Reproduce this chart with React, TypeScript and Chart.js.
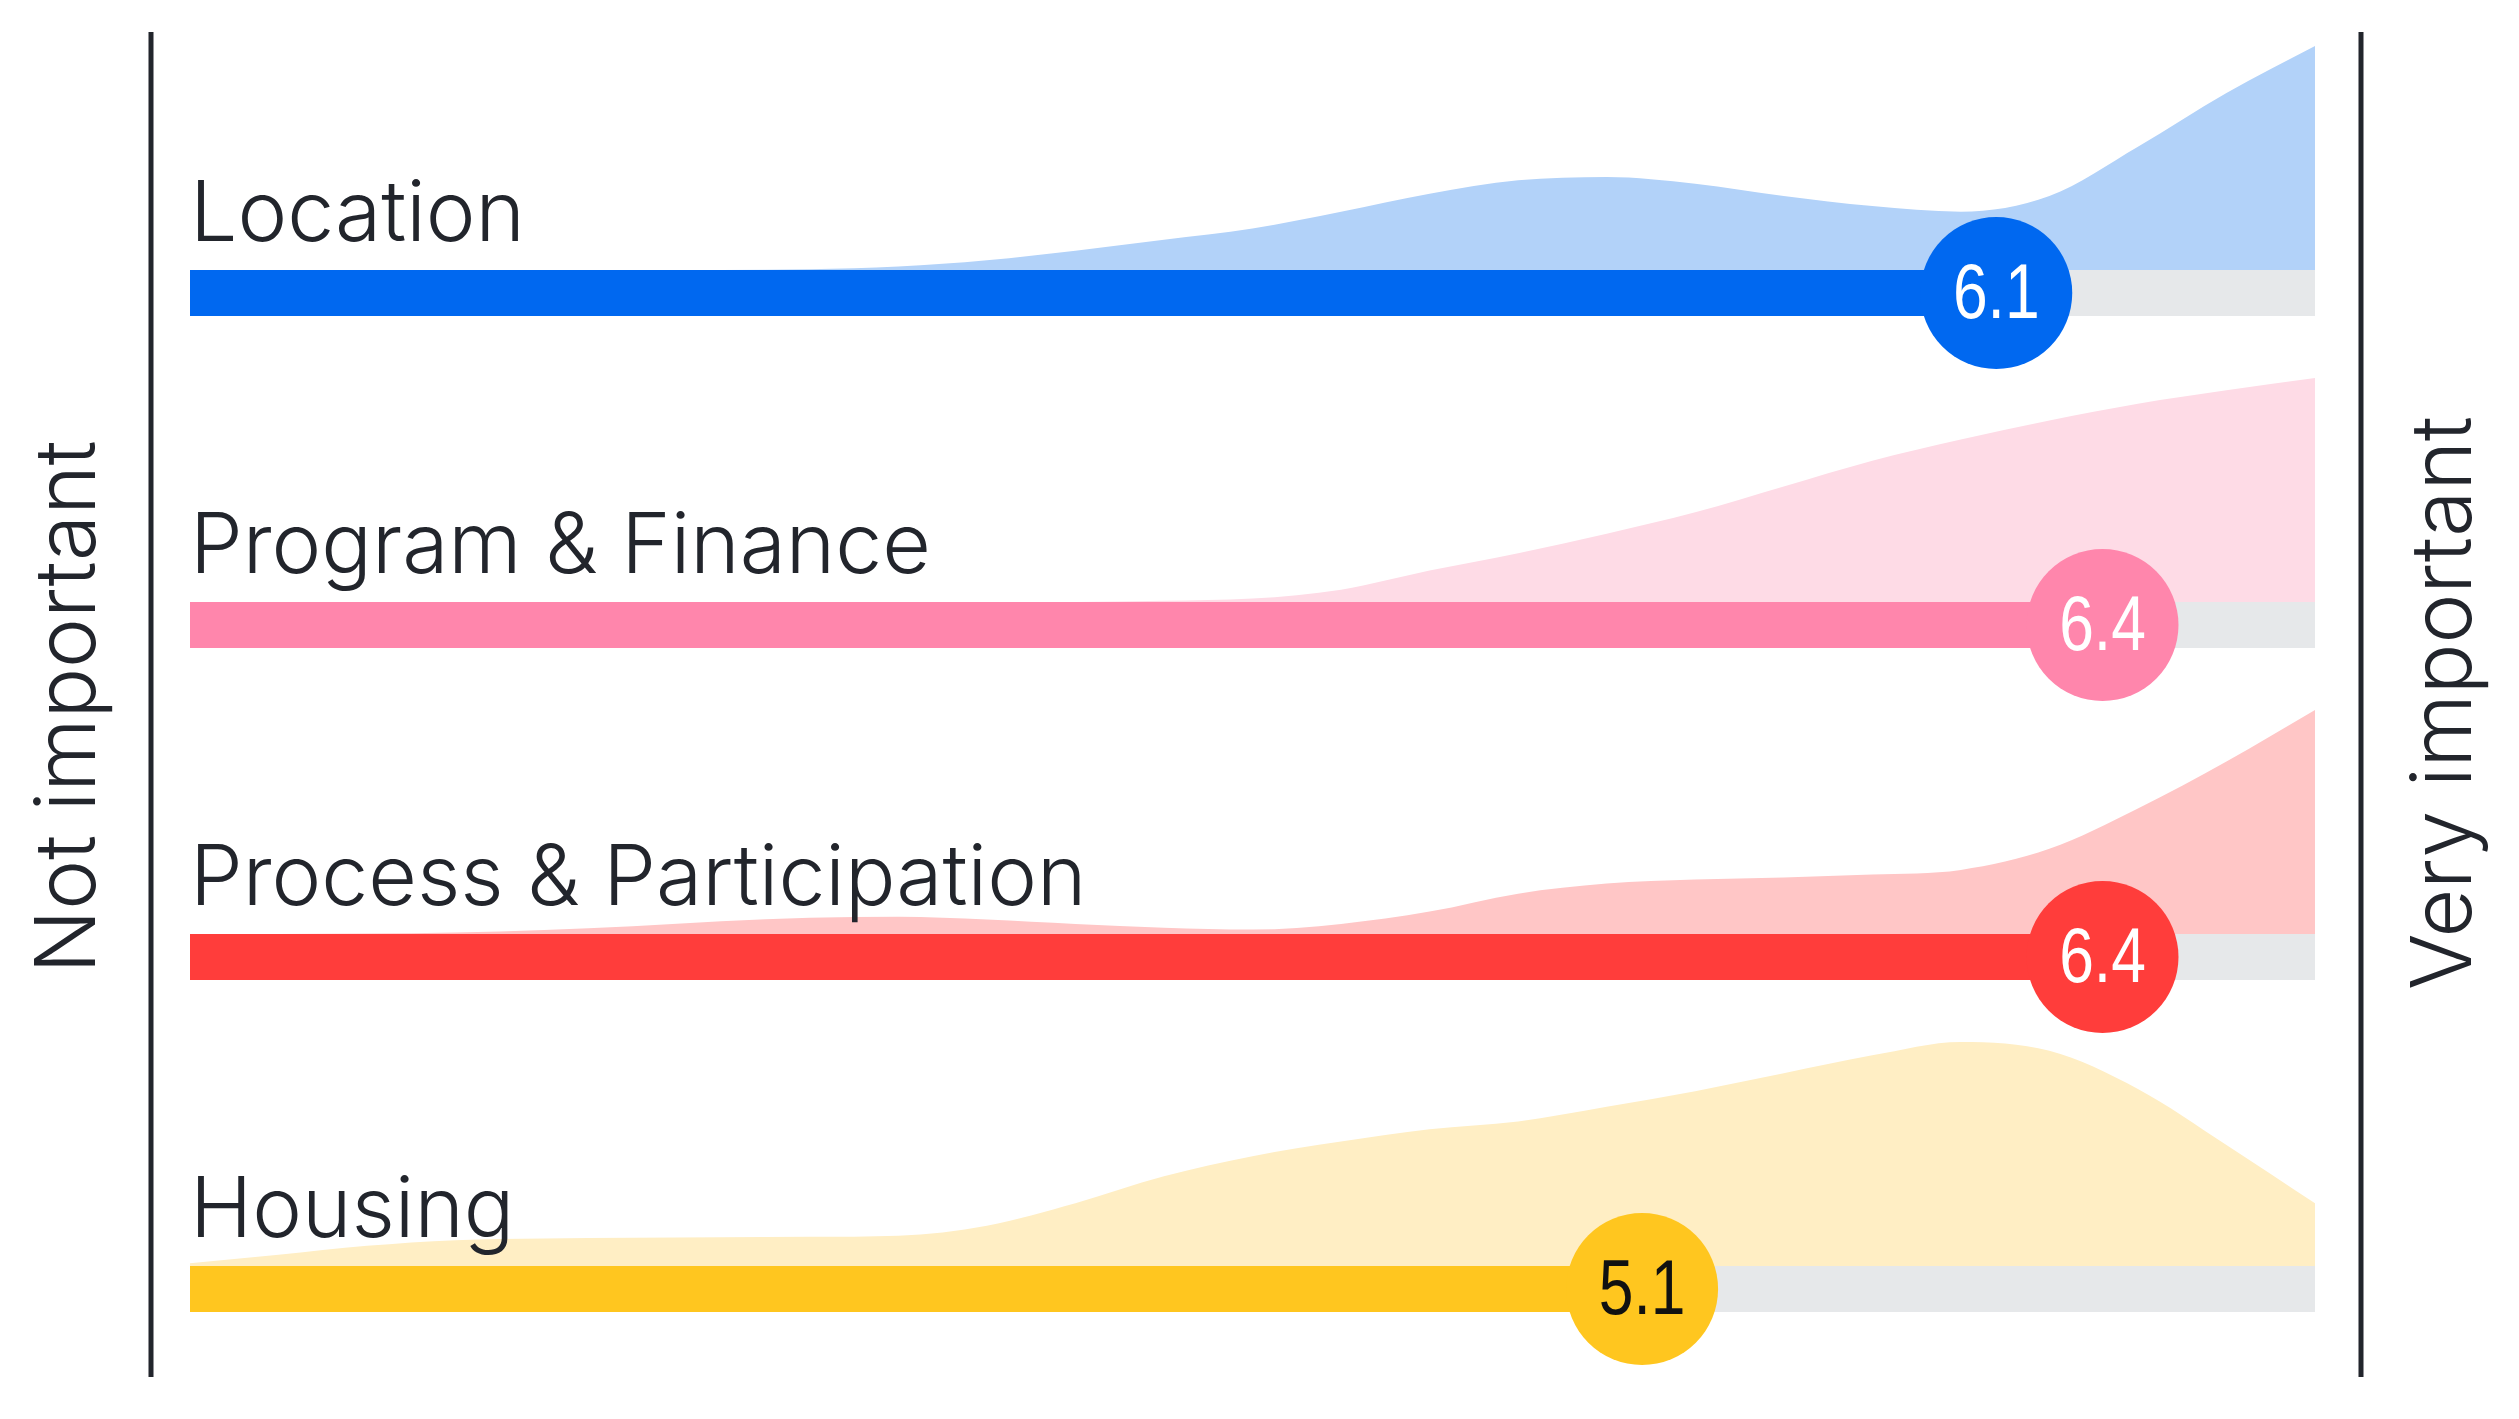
import React, { useEffect, useRef } from "react";
import { Chart, registerables } from "chart.js";

Chart.register(...registerables);

const categories = ["Location", "Program & Finance", "Process & Participation", "Housing"];
const means = [6.1, 6.4, 6.4, 5.1];
const scaleMin = 1;
const scaleMax = 7;
const sideLabels = ["Not important", "Very important"];

const xs = [1, 1.25, 1.5, 1.75, 2, 2.25, 2.5, 2.75, 3, 3.25, 3.5, 3.75, 4, 4.25, 4.5, 4.75, 5, 5.25, 5.5, 5.75, 6, 6.25, 6.5, 6.75, 7];

const densityLocation = [0, 0, 0, 0, 0, 0, 0, 0.003, 0.015, 0.043, 0.086, 0.135, 0.185, 0.26, 0.34, 0.4, 0.415, 0.385, 0.33, 0.285, 0.26, 0.33, 0.55, 0.79, 1.0];
const densityProgram = [0, 0, 0, 0, 0, 0, 0, 0, 0, 0, 0, 0.005, 0.015, 0.055, 0.14, 0.218, 0.305, 0.4, 0.515, 0.63, 0.725, 0.81, 0.885, 0.945, 1.0];
const densityProcess = [0, 0, 0.002, 0.007, 0.018, 0.035, 0.057, 0.072, 0.077, 0.065, 0.045, 0.028, 0.02, 0.045, 0.1, 0.18, 0.225, 0.243, 0.252, 0.265, 0.286, 0.38, 0.56, 0.77, 1.0];
const densityHousing = [0.012, 0.05, 0.09, 0.115, 0.123, 0.126, 0.128, 0.13, 0.135, 0.18, 0.28, 0.4, 0.49, 0.555, 0.61, 0.645, 0.71, 0.78, 0.86, 0.94, 1.0, 0.96, 0.79, 0.54, 0.28];
const densities = [densityLocation, densityProgram, densityProcess, densityHousing];

const barColors = ["#0068F0", "#FF86AC", "#FF3D3B", "#FFC61F"];
const fillColors = ["#B2D2F9", "#FEDBE6", "#FFC6C6", "#FFEEC4"];
const valueTextColors = ["#FFFFFF", "#FFFFFF", "#FFFFFF", "#111111"];
const trackColor = "#E6E8EA";
const inkColor = "#22252C";

const W = 2519;
const H = 1419;
const BAR_PX = 46;
const DOT_R = 76;
const BAR_HALF = 0.0693; // half bar thickness in row units
const DENS_H = 0.675; // max density height in row units

export default function App() {
  const ref = useRef<HTMLCanvasElement | null>(null);

  useEffect(() => {
    const canvas = ref.current;
    if (!canvas) return;
    const n = categories.length;
    const rowCenter = (i: number) => n - 1 - i;

    const datasets: any[] = [];
    categories.forEach((cat, i) => {
      const c = rowCenter(i);
      const base = c + BAR_HALF;
      datasets.push({
        label: cat + " density",
        data: xs.map((x, k) => ({ x, y: base + densities[i][k] * DENS_H })),
        borderWidth: 0,
        borderColor: "rgba(0,0,0,0)",
        backgroundColor: fillColors[i],
        fill: { value: base },
        pointRadius: 0,
        cubicInterpolationMode: "monotone",
        order: 4,
        clip: false,
      });
      datasets.push({
        label: cat + " track",
        data: [{ x: scaleMin, y: c }, { x: scaleMax, y: c }],
        borderColor: trackColor,
        borderWidth: BAR_PX,
        borderCapStyle: "butt",
        pointRadius: 0,
        fill: false,
        order: 3,
        clip: false,
      });
      datasets.push({
        label: cat + " bar",
        data: [{ x: scaleMin, y: c }, { x: means[i], y: c }],
        borderColor: barColors[i],
        borderWidth: BAR_PX,
        borderCapStyle: "butt",
        pointRadius: 0,
        fill: false,
        order: 2,
        clip: false,
      });
      datasets.push({
        label: cat + " mean",
        data: [{ x: means[i], y: c }],
        showLine: false,
        pointRadius: DOT_R,
        pointHoverRadius: DOT_R,
        pointBackgroundColor: barColors[i],
        pointBorderWidth: 0,
        borderWidth: 0,
        fill: false,
        order: 1,
        clip: false,
      });
    });

    const labelPlugin = {
      id: "labels",
      afterDatasetsDraw(chart: any) {
        const ctx = chart.ctx;
        const xS = chart.scales.x;
        const yS = chart.scales.y;
        const area = chart.chartArea;
        ctx.save();
        // row labels
        ctx.fillStyle = inkColor;
        ctx.font = '300 84px Inter, "Noto Sans", sans-serif';
        ctx.textAlign = "left";
        ctx.textBaseline = "alphabetic";
        categories.forEach((cat, i) => {
          const cy = yS.getPixelForValue(rowCenter(i));
          ctx.fillText(cat, xS.getPixelForValue(scaleMin), cy - BAR_PX / 2 - 29);
        });
        // values (narrow sans, drawn horizontally condensed)
        ctx.font = '400 78px "Liberation Sans", Arial, sans-serif';
        ctx.textAlign = "center";
        ctx.textBaseline = "middle";
        categories.forEach((cat, i) => {
          const cy = yS.getPixelForValue(rowCenter(i));
          const cx = xS.getPixelForValue(means[i]);
          ctx.save();
          ctx.translate(cx, cy + 3);
          ctx.scale(0.8, 1);
          ctx.fillStyle = valueTextColors[i];
          ctx.fillText(means[i].toFixed(1), 0, 0);
          ctx.restore();
        });
        // vertical lines
        ctx.strokeStyle = inkColor;
        ctx.lineWidth = 5;
        const lx = area.left - 39;
        const rx = area.right + 46;
        ctx.beginPath();
        ctx.moveTo(lx, 32);
        ctx.lineTo(lx, 1377);
        ctx.moveTo(rx, 32);
        ctx.lineTo(rx, 1377);
        ctx.stroke();
        // side labels
        ctx.fillStyle = inkColor;
        ctx.font = '300 84px Inter, "Noto Sans", sans-serif';
        ctx.textAlign = "center";
        ctx.textBaseline = "middle";
        ctx.save();
        ctx.translate(70, 707);
        ctx.rotate(-Math.PI / 2);
        ctx.fillText(sideLabels[0], 0, 0);
        ctx.restore();
        ctx.save();
        ctx.translate(2446, 703);
        ctx.rotate(-Math.PI / 2);
        ctx.fillText(sideLabels[1], 0, 0);
        ctx.restore();
        ctx.restore();
      },
    };

    const chart = new Chart(canvas, {
      type: "line",
      data: { datasets },
      options: {
        animation: false,
        responsive: false,
        maintainAspectRatio: false,
        devicePixelRatio: 1,
        layout: { autoPadding: false, padding: { left: 190, right: 204, top: 0, bottom: 0 } },
        plugins: { legend: { display: false }, tooltip: { enabled: false } },
        events: [],
        scales: {
          x: { type: "linear", min: scaleMin, max: scaleMax, display: false },
          y: { type: "linear", min: -0.3916, max: 3.8825, display: false },
        },
      } as any,
      plugins: [labelPlugin],
    });
    return () => chart.destroy();
  }, []);

  return (
    <div style={{ position: "fixed", left: 0, top: 0, width: W, height: H, background: "#fff" }}>
      <canvas ref={ref} width={W} height={H} style={{ width: W, height: H, display: "block" }} />
    </div>
  );
}
